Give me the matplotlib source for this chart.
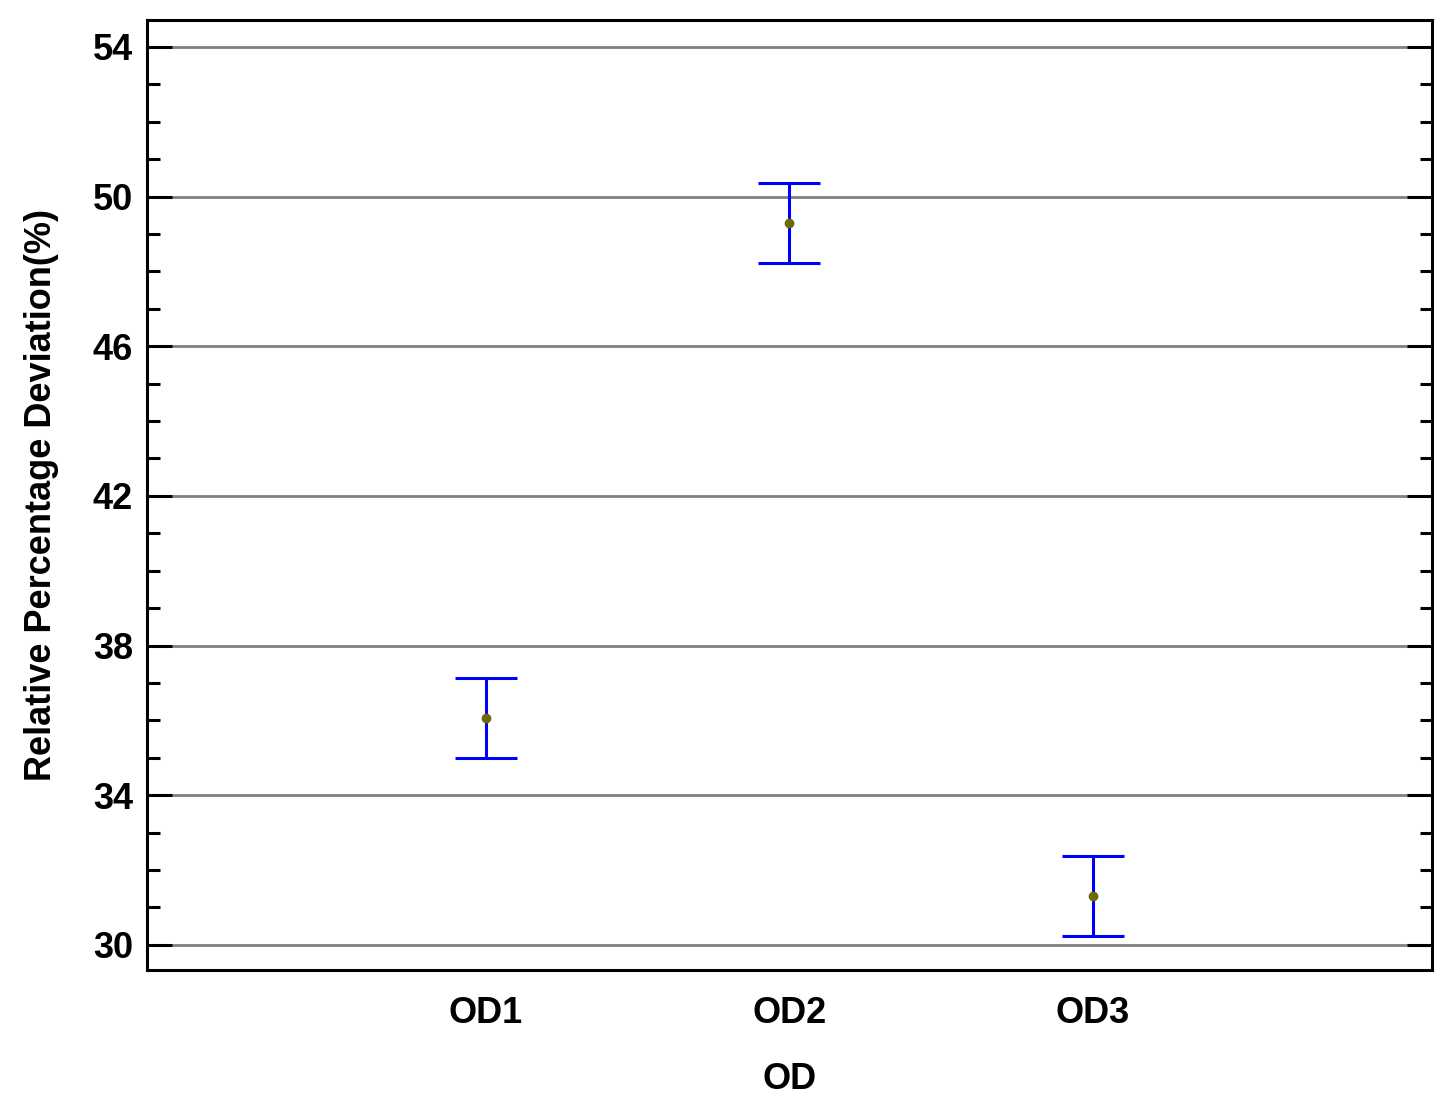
import matplotlib
matplotlib.use("Agg")
import matplotlib.pyplot as plt
from matplotlib.ticker import MultipleLocator

plt.rcParams['font.family'] = ['Liberation Sans', 'DejaVu Sans']
plt.rcParams['font.weight'] = 'bold'

# data
groups = ["OD1", "OD2", "OD3"]
means = [36.07, 49.29, 31.31]
lower = [35.00, 48.23, 30.24]
upper = [37.13, 50.36, 32.38]

x = list(range(1, len(groups) + 1))
err_lo = [m - l for m, l in zip(means, lower)]
err_hi = [u - m for m, u in zip(means, upper)]

fig = plt.figure(figsize=(7.275, 5.515), dpi=200)
ax = fig.add_axes([0.101, 0.1206, 0.8832, 0.8613])

ax.errorbar(x, means, yerr=[err_lo, err_hi], fmt='none', ecolor='#0000ff',
            elinewidth=1.1, capsize=11, capthick=1.1, zorder=3)
ax.plot(x, means, 'o', color='#6b6b00', markersize=2.5, zorder=4)

ax.set_xlim(-0.117, 4.117)
ax.set_ylim(29.33, 54.72)
ax.set_xticks(x)
ax.set_xticklabels(groups)
ax.yaxis.set_major_locator(MultipleLocator(4))
ax.yaxis.set_minor_locator(MultipleLocator(1))
ax.set_yticks([30, 34, 38, 42, 46, 50, 54])

ax.grid(axis='y', color='#808080', linewidth=1.0, zorder=1)
ax.tick_params(axis='y', which='major', direction='in', length=9, width=1.1,
               left=True, right=True, labelsize=13, pad=5)
ax.tick_params(axis='y', which='minor', direction='in', length=4.5, width=1.1,
               left=True, right=True)
ax.tick_params(axis='x', length=0, labelsize=13, pad=9.5)

for s in ax.spines.values():
    s.set_linewidth(1.1)

ax.set_xlabel("OD", fontsize=13, fontweight='bold', labelpad=11)
ax.set_ylabel("Relative Percentage Deviation(%)", fontsize=13, fontweight='bold', labelpad=12)

fig.savefig("out.png", dpi=200)
